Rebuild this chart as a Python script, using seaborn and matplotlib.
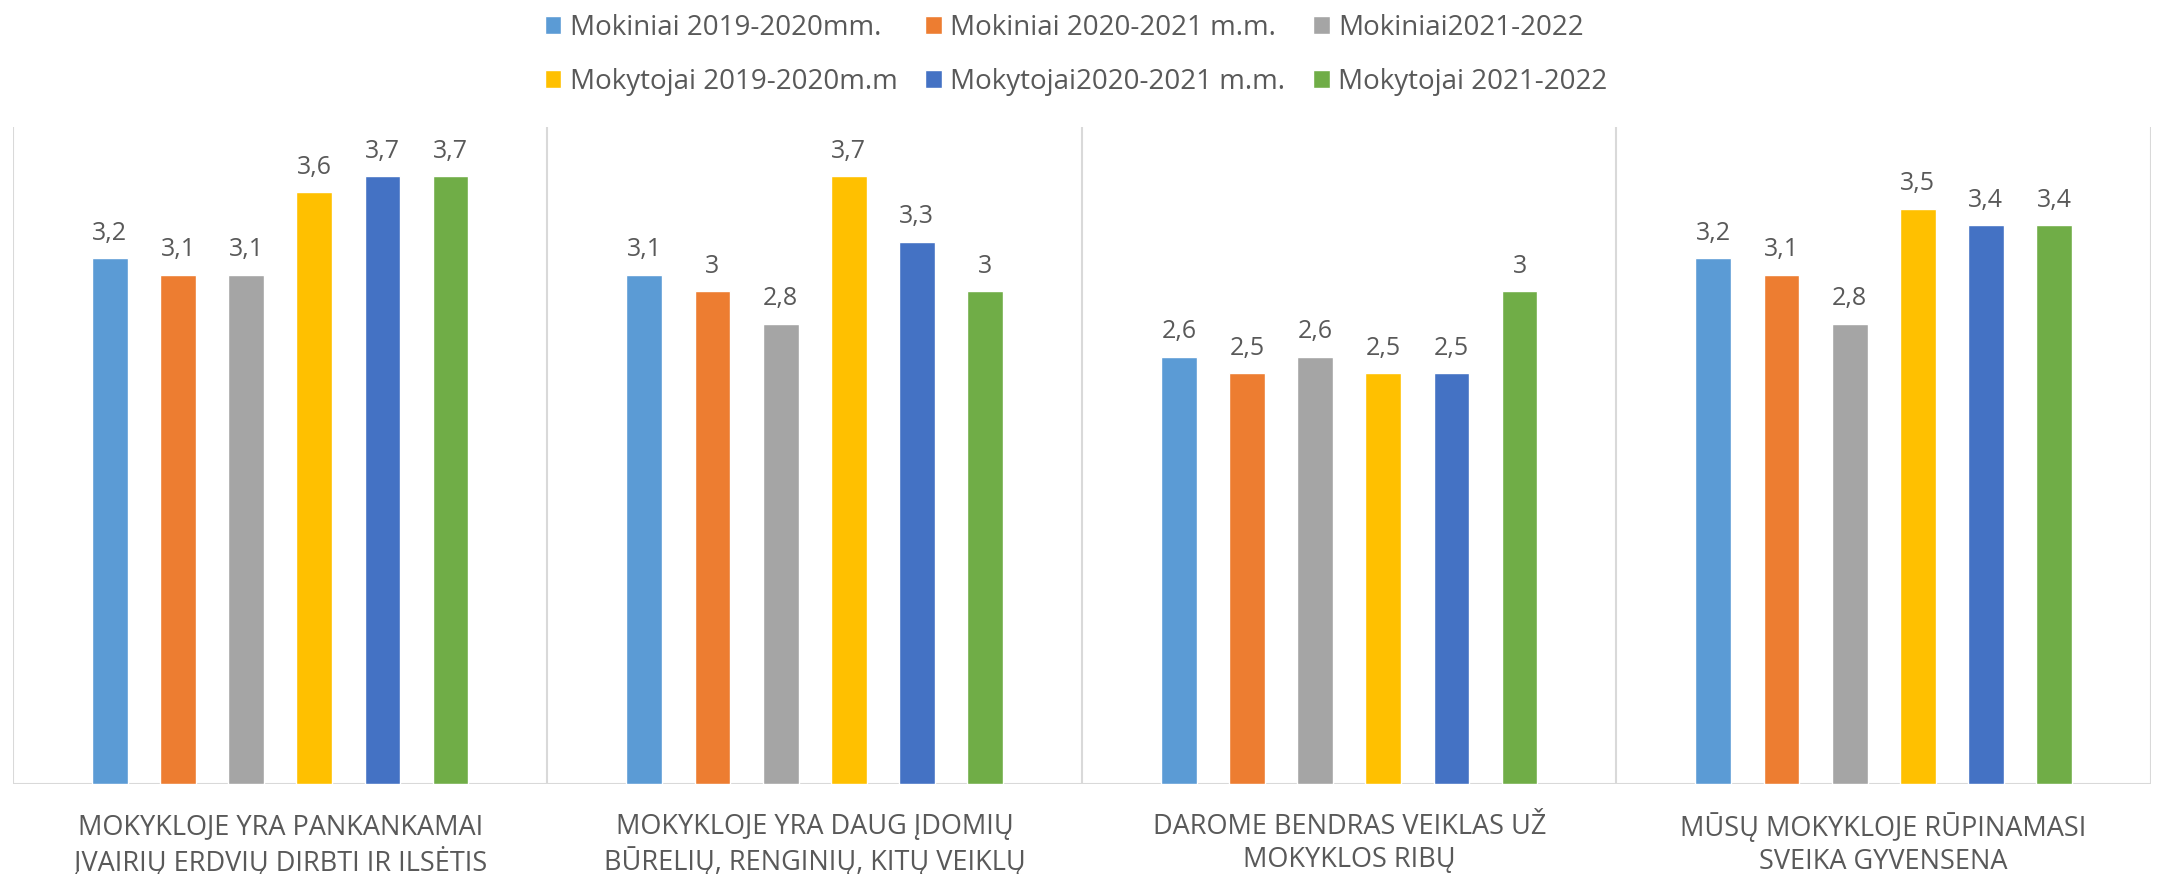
import matplotlib
matplotlib.use("Agg")
import matplotlib.pyplot as plt
import seaborn as sns
import pandas as pd

CATEGORIES = [
    "MOKYKLOJE YRA PANKANKAMAI\nĮVAIRIŲ ERDVIŲ DIRBTI IR ILSĖTIS",
    "MOKYKLOJE YRA DAUG ĮDOMIŲ\nBŪRELIŲ, RENGINIŲ, KITŲ VEIKLŲ",
    "DAROME BENDRAS VEIKLAS UŽ\nMOKYKLOS RIBŲ",
    "MŪSŲ MOKYKLOJE RŪPINAMASI\nSVEIKA GYVENSENA",
]
SERIES = [
    "Mokiniai 2019-2020mm.",
    "Mokiniai 2020-2021 m.m.",
    "Mokiniai2021-2022",
    "Mokytojai 2019-2020m.m",
    "Mokytojai2020-2021 m.m.",
    "Mokytojai 2021-2022",
]
mokiniai_19_20 = [3.2, 3.1, 2.6, 3.2]
mokiniai_20_21 = [3.1, 3.0, 2.5, 3.1]
mokiniai_21_22 = [3.1, 2.8, 2.6, 2.8]
mokytojai_19_20 = [3.6, 3.7, 2.5, 3.5]
mokytojai_20_21 = [3.7, 3.3, 2.5, 3.4]
mokytojai_21_22 = [3.7, 3.0, 3.0, 3.4]

COLORS = ["#5B9BD5", "#ED7D31", "#A5A5A5", "#FFC000", "#4472C4", "#70AD47"]
TEXT = "#595959"
GRID = "#D9D9D9"

values = [mokiniai_19_20, mokiniai_20_21, mokiniai_21_22,
          mokytojai_19_20, mokytojai_20_21, mokytojai_21_22]
rows = []
for s, vals in zip(SERIES, values):
    for c, v in zip(CATEGORIES, vals):
        rows.append({"Kategorija": c, "Grupė": s, "Vertė": v})
df = pd.DataFrame(rows)

sns.set_style("white")
plt.rcParams["font.family"] = ["Open Sans", "DejaVu Sans"]

fig = plt.figure(figsize=(21.65, 8.74), dpi=100)
ax = fig.add_axes([0.006, 0.103, 0.9875, 0.752])

sns.barplot(data=df, x="Kategorija", y="Vertė", hue="Grupė",
            hue_order=SERIES, order=CATEGORIES, palette=COLORS,
            width=0.765, gap=0.475, ax=ax, errorbar=None, saturation=1)

for cont in ax.containers:
    ax.bar_label(cont, fmt=lambda v: f"{v:g}".replace(".", ","),
                 padding=9, fontsize=18, color=TEXT)

ax.set_ylim(0, 4)
ax.set_xlim(-0.5, 3.5)
for x in [-0.5, 0.5, 1.5, 2.5, 3.5]:
    ax.axvline(x, color=GRID, linewidth=1.5, zorder=0)
ax.axhline(0, color=GRID, linewidth=1.5, zorder=0)
for sp in ax.spines.values():
    sp.set_visible(False)
ax.set_yticks([])
ax.set_xlabel("")
ax.set_ylabel("")
ax.tick_params(axis="x", length=0, pad=21, labelsize=19.5, labelcolor=TEXT)
for lbl in ax.get_xticklabels():
    lbl.set_linespacing(1.25)

handles, labels = ax.get_legend_handles_labels()
ax.get_legend().remove()
order = [0, 3, 1, 4, 2, 5]
fig.legend([handles[i] for i in order], [labels[i] for i in order],
           loc="upper center", bbox_to_anchor=(0.497, 1.013), ncol=3,
           frameon=False, fontsize=20, labelcolor=TEXT,
           handlelength=0.6, handleheight=0.6, handletextpad=0.3,
           columnspacing=1.0, labelspacing=0.95)

fig.savefig("out.png", dpi=100)
